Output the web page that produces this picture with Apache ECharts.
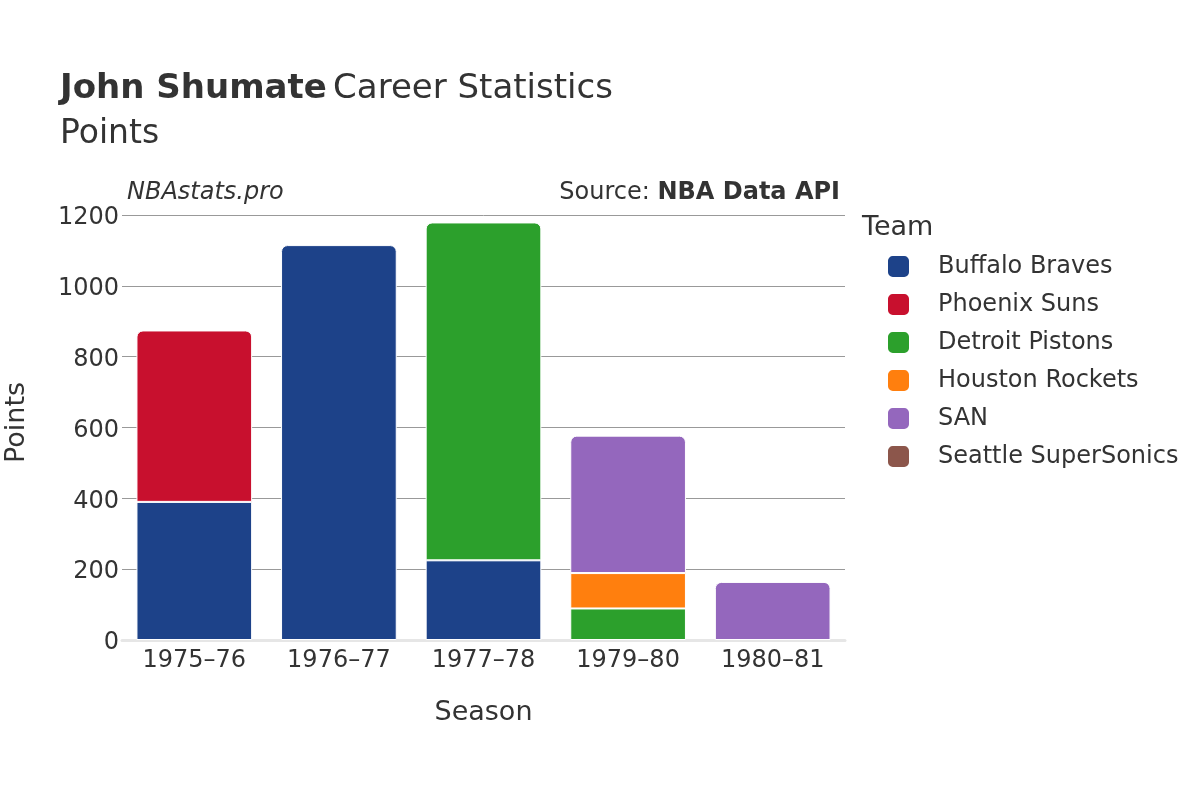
<!DOCTYPE html>
<html>
<head>
<meta charset="utf-8">
<script src="https://cdn.jsdelivr.net/npm/echarts@6/dist/echarts.min.js"></script>
<style>html,body{margin:0;padding:0;background:#fff}#c{width:1200px;height:800px}</style>
</head>
<body>
<div id="c"></div>
<script>
const seasons = ['1975–76', '1976–77', '1977–78', '1979–80', '1980–81'];
const teams = ['Buffalo Braves', 'Phoenix Suns', 'Detroit Pistons', 'Houston Rockets', 'SAN', 'Seattle SuperSonics'];
const buffaloBraves = [390, 1115, 225, 0, 0];
const phoenixSuns = [484, 0, 0, 0, 0];
const detroitPistons = [0, 0, 954, 89, 0];
const houstonRockets = [0, 0, 0, 100, 0];
const san = [0, 0, 0, 388, 164];
const seattleSuperSonics = [0, 0, 0, 0, 0];
const yTicks = [0, 200, 400, 600, 800, 1000, 1200];

const teamValues = [buffaloBraves, phoenixSuns, detroitPistons, houstonRockets, san, seattleSuperSonics];
const colors = ['#1d4289', '#c8102e', '#2ca02c', '#ff7f0e', '#9467bd', '#8c564b'];
const FONT = 'DejaVu Sans';

const topIdx = seasons.map((s, i) => {
  let t = -1;
  teamValues.forEach((arr, k) => { if (arr[i] > 0) t = k; });
  return t;
});

const series = teams.map((name, k) => ({
  name,
  type: 'bar',
  stack: 'total',
  barCategoryGap: '20%',
  itemStyle: { color: colors[k], borderColor: '#fff', borderWidth: 1 },
  data: teamValues[k].map((v, i) => ({
    value: v === 0 ? null : v,
    itemStyle: topIdx[i] === k ? { borderRadius: [6, 6, 0, 0] } : {}
  }))
}));

const chart = echarts.init(document.getElementById('c'), null, { renderer: 'canvas' });
chart.setOption({
  backgroundColor: '#fff',
  animation: false,
  textStyle: { fontFamily: FONT },
  title: [
    {
      left: 55, top: 67,
      text: '{b|John Shumate} {n|Career Statistics}',
      textStyle: {
        rich: {
          b: { fontFamily: FONT, fontWeight: 'bold', fontSize: 34, color: '#333' },
          n: { fontFamily: FONT, fontWeight: 'normal', fontSize: 34, color: '#333' }
        }
      }
    },
    { left: 55, top: 113, text: 'Points', textStyle: { fontFamily: FONT, fontSize: 33, fontWeight: 'normal', color: '#333' } },
    { left: 857, top: 209, text: 'Team', textStyle: { fontFamily: FONT, fontSize: 27, fontWeight: 'normal', color: '#333' } },
    { left: 122, top: 176, text: 'NBAstats.pro', textStyle: { fontFamily: FONT, fontSize: 24, fontStyle: 'italic', fontWeight: 'normal', color: '#333' } },
    {
      right: 355, top: 176,
      text: '{n|Source: }{b|NBA Data API}',
      textStyle: {
        rich: {
          n: { fontFamily: FONT, fontSize: 24, fontWeight: 'normal', color: '#333' },
          b: { fontFamily: FONT, fontSize: 24, fontWeight: 'bold', color: '#333' }
        }
      }
    }
  ],
  legend: {
    orient: 'vertical',
    left: 886, top: 254,
    padding: 0,
    itemWidth: 23, itemHeight: 23, itemGap: 13,
    icon: 'roundRect',
    data: teams,
    textStyle: { fontFamily: FONT, fontSize: 24, color: '#333', padding: [0, 0, 0, 23] }
  },
  grid: { left: 122, right: 355, top: 215, bottom: 160, containLabel: false, outerBoundsMode: 'none' },
  xAxis: {
    type: 'category',
    data: seasons,
    name: 'Season',
    nameLocation: 'middle',
    nameGap: 59,
    nameTextStyle: { fontFamily: FONT, fontSize: 27, color: '#333' },
    axisLine: { show: true, lineStyle: { color: '#e6e6e6', width: 3 } },
    axisTick: { show: false },
    axisLabel: { fontFamily: FONT, fontSize: 24, color: '#333', margin: 9 }
  },
  yAxis: {
    type: 'value',
    min: yTicks[0], max: yTicks[yTicks.length - 1], interval: 200,
    name: 'Points',
    nameLocation: 'middle',
    nameGap: 92,
    nameTextStyle: { fontFamily: FONT, fontSize: 27, color: '#333', padding: [0, 0, 0, 10] },
    axisLine: { show: false },
    axisTick: { show: false },
    axisLabel: {
      fontFamily: FONT, fontSize: 24, color: '#333', margin: 3,
      formatter: v => '{a|' + v + '}',
      rich: { a: { fontFamily: FONT, fontSize: 24, color: '#333', padding: [6, 0, 0, 0] } }
    },
    splitLine: { lineStyle: { color: '#999', width: 1 } }
  },
  series
});
</script>
</body>
</html>
